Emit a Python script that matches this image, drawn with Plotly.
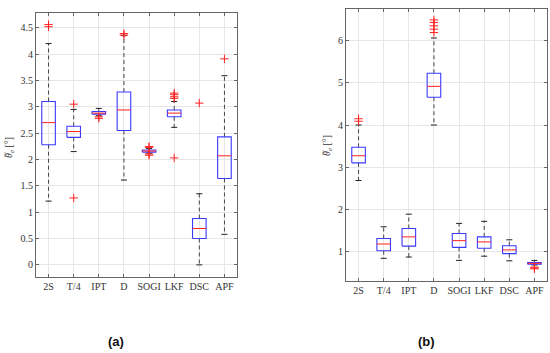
import plotly.graph_objects as go

categories = ["2S", "T/4", "IPT", "D", "SOGI", "LKF", "DSC", "APF"]

# Panel (a)
a_low = [1.21, 2.15, 2.83, 1.61, 2.12, 2.61, 0.0, 0.58]
a_q1 = [2.28, 2.42, 2.86, 2.55, 2.14, 2.81, 0.50, 1.64]
a_med = [2.70, 2.53, 2.88, 2.94, 2.16, 2.88, 0.69, 2.07]
a_q3 = [3.10, 2.63, 2.91, 3.28, 2.18, 2.94, 0.88, 2.43]
a_high = [4.20, 2.95, 2.97, 4.35, 2.21, 3.10, 1.35, 3.59]
a_out = [[4.52, 4.56], [3.05, 1.27], [2.81, 2.78], [4.36, 4.39],
         [2.245, 2.23, 2.105, 2.08], [3.26, 3.23, 3.19, 3.16, 2.03], [3.07], [3.91]]

# Panel (b)
b_low = [2.68, 0.83, 0.86, 4.00, 0.78, 0.88, 0.77, 0.67]
b_q1 = [3.10, 1.01, 1.12, 4.66, 1.09, 1.07, 0.94, 0.69]
b_med = [3.27, 1.17, 1.34, 4.92, 1.25, 1.22, 1.03, 0.71]
b_q3 = [3.47, 1.30, 1.54, 5.23, 1.42, 1.34, 1.13, 0.73]
b_high = [4.00, 1.58, 1.88, 6.07, 1.66, 1.71, 1.27, 0.78]
b_out = [[4.09, 4.15], [], [], [6.20, 6.28, 6.36, 6.44, 6.50],
         [], [], [], [0.62, 0.60, 0.58]]

HW = 0.27
CW = 0.12
BLUE = "#3a3aff"
RED = "#ff2020"
FONT = "Liberation Serif"

fig = go.Figure()


def add_panel(xa, ya, low, q1, med, q3, high, outs):
    bx, by, mx, my, wx, wy, cx, cy, ox, oy = [], [], [], [], [], [], [], [], [], []
    for i in range(len(categories)):
        x = i + 1
        bx += [x - HW, x + HW, x + HW, x - HW, x - HW, None]
        by += [q1[i], q1[i], q3[i], q3[i], q1[i], None]
        mx += [x - HW, x + HW, None]
        my += [med[i], med[i], None]
        wx += [x, x, None, x, x, None]
        wy += [q3[i], high[i], None, q1[i], low[i], None]
        cx += [x - CW, x + CW, None, x - CW, x + CW, None]
        cy += [high[i], high[i], None, low[i], low[i], None]
        for v in outs[i]:
            ox.append(x)
            oy.append(v)
    common = dict(xaxis=xa, yaxis=ya, showlegend=False, hoverinfo="skip", mode="lines")
    fig.add_trace(go.Scatter(x=wx, y=wy, line=dict(color="#444444", width=1, dash="4px,3px"), **common))
    fig.add_trace(go.Scatter(x=cx, y=cy, line=dict(color="#222222", width=1), **common))
    fig.add_trace(go.Scatter(x=bx, y=by, line=dict(color=BLUE, width=1.1), **common))
    fig.add_trace(go.Scatter(x=mx, y=my, line=dict(color=RED, width=1), **common))
    fig.add_trace(go.Scatter(x=ox, y=oy, xaxis=xa, yaxis=ya, mode="markers", showlegend=False,
                             marker=dict(symbol="cross-thin", size=6, line=dict(color=RED, width=1))))


add_panel("x", "y", a_low, a_q1, a_med, a_q3, a_high, a_out)
add_panel("x2", "y2", b_low, b_q1, b_med, b_q3, b_high, b_out)

axis_common = dict(showline=True, mirror="allticks", linecolor="#666666", linewidth=1,
                   ticks="inside", ticklen=3, tickcolor="#666666", showgrid=True,
                   gridcolor="#e6e6e6", gridwidth=1, zeroline=False,
                   tickfont=dict(family=FONT, size=10, color="#333333"))

fig.update_layout(
    width=550, height=353,
    margin=dict(l=0, r=0, t=0, b=0),
    paper_bgcolor="white", plot_bgcolor="white",
    xaxis=dict(domain=[36 / 550, 237 / 550], range=[0.5, 8.5], tickvals=list(range(1, 9)),
               ticktext=categories, anchor="y", **axis_common),
    yaxis=dict(domain=[1 - 277 / 353, 1 - 13 / 353], range=[-0.23, 4.78],
               tickvals=[0, 0.5, 1, 1.5, 2, 2.5, 3, 3.5, 4, 4.5],
               ticktext=["0", "0.5", "1", "1.5", "2", "2.5", "3", "3.5", "4", "4.5"],
               anchor="x", **axis_common),
    xaxis2=dict(domain=[346 / 550, 547 / 550], range=[0.5, 8.5], tickvals=list(range(1, 9)),
                ticktext=categories, anchor="y2", **axis_common),
    yaxis2=dict(domain=[1 - 281 / 353, 1 - 9 / 353], range=[0.29, 6.76],
                tickvals=[1, 2, 3, 4, 5, 6], anchor="x2", **axis_common),
)

label = "<i>θ</i><sub><i>e</i></sub> [°]"
LFONT = dict(family="Liberation Serif", size=10, color="#333")
TFONT = dict(family="Liberation Serif", size=9, color="#333")
for lx, ly in [(9, 148), (327, 146)]:
    fig.add_annotation(text=label, x=lx / 550, y=1 - ly / 353, xref="paper", yref="paper",
                       xanchor="center", yanchor="middle",
                       textangle=-90, showarrow=False, font=LFONT)
    fig.add_annotation(text="~", x=(lx - 4) / 550, y=1 - (ly + 7) / 353, xref="paper", yref="paper",
                       xanchor="center", yanchor="middle",
                       textangle=-90, showarrow=False, font=TFONT)
fig.add_annotation(text="<b>(a)</b>", x=116 / 550, y=1 - 341 / 353, xref="paper", yref="paper",
                   xanchor="center", yanchor="middle",
                   showarrow=False, font=dict(family="Liberation Sans", size=13, color="#111"))
fig.add_annotation(text="<b>(b)</b>", x=426 / 550, y=1 - 341 / 353, xref="paper", yref="paper",
                   xanchor="center", yanchor="middle",
                   showarrow=False, font=dict(family="Liberation Sans", size=13, color="#111"))

fig.write_html("out.html", config={"displayModeBar": False},
               post_script="document.body.style.margin='0';document.body.style.overflow='hidden';")
